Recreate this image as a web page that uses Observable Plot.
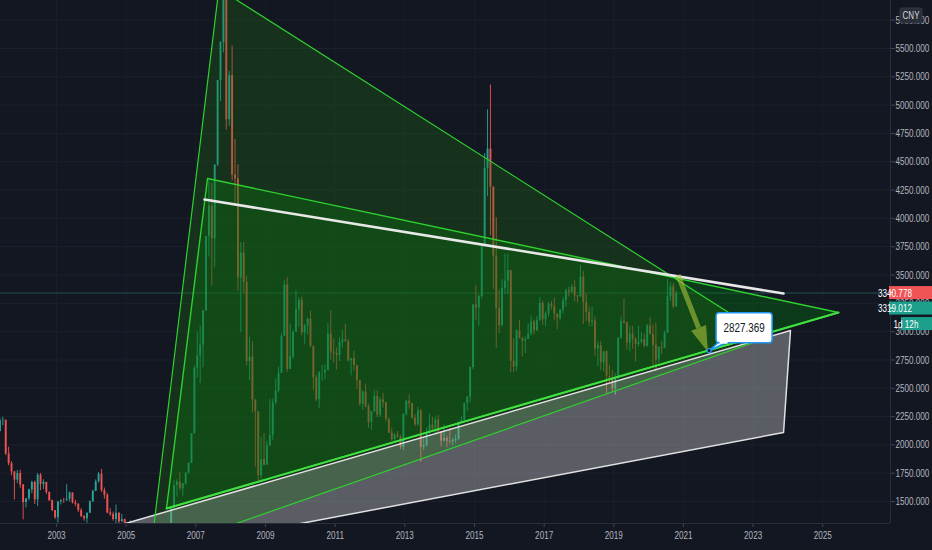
<!DOCTYPE html>
<html><head><meta charset="utf-8">
<script src="https://cdn.jsdelivr.net/npm/d3@7"></script>
<script src="https://cdn.jsdelivr.net/npm/@observablehq/plot@0.6"></script>
<style>
html,body{margin:0;padding:0;background:#131722;overflow:hidden}
#chart{width:932px;height:550px}
#chart svg g[aria-label$="tick"] path,#chart svg g[aria-label$="axis"] line,#chart svg g[aria-label$="axis"] path{stroke:#434651}
</style></head><body><div id="chart"></div>
<script>
// ---- Monthly candles of the index, starting May 2001 (open = previous close)
const startYear = 2001, startMonth = 5;
const firstOpen = 2119;
const closes = [
 2214,2218,1920,1834,1763,1689,1747,1646,
 1491,1524,1603,1668,1515,1732,1651,1669,1581,1507,1421,1357,
 1499,1511,1510,1521,1576,1487,1476,1421,1367,1348,1397,1497,
 1590,1675,1741,1595,1555,1399,1386,1342,1396,1320,1340,1266,
 1191,1306,1181,1159,1060,1080,1083,1162,1155,1092,1099,1161,
 1258,1299,1298,1440,1641,1672,1612,1658,1752,1837,2099,2675,
 2786,2881,3183,3841,4109,3820,4471,5218,5552,5954,4871,5261,
 4383,4348,3473,3693,3433,2736,2775,2397,2293,1729,1871,1821,
 1991,2082,2373,2477,2633,2959,3412,2667,2779,2996,3195,3277,
 2989,3051,3109,2871,2592,2398,2638,2638,2656,2979,2820,2808,
 2791,2905,2928,2911,2743,2762,2701,2568,2359,2468,2333,2199,
 2292,2428,2263,2397,2373,2225,2103,2047,2086,2069,1980,2269,
 2385,2366,2237,2178,2301,1979,1994,2098,2175,2141,2220,2116,
 2033,2056,2033,2026,2039,2048,2201,2217,2364,2420,2683,3235,
 3210,3310,3748,4441,4612,4277,3664,3206,3053,3383,3445,3539,
 2738,2688,3004,2938,2917,2930,2979,3085,3005,3100,3250,3104,
 3159,3242,3223,3155,3117,3192,3273,3361,3349,3393,3317,3307,
 3481,3259,3169,3082,3095,2847,2876,2725,2821,2603,2588,2494,
 2585,2941,3091,3078,2899,2979,2933,2886,2905,2929,2872,3050,
 2977,2880,2750,2860,2852,2985,3310,3396,3218,3341
];
const highs = [
 2232,2245,2219,1981,1852,1763,1776,1776,
 1650,1524,1608,1680,1681,1748,1748,1693,1670,1583,1513,1421,
 1500,1513,1528,1649,1585,1576,1512,1481,1438,1376,1400,1507,
 1600,1691,1757,1783,1619,1571,1437,1407,1469,1402,1387,1346,
 1275,1329,1311,1242,1166,1146,1089,1189,1223,1161,1109,1164,
 1260,1307,1305,1445,1683,1692,1757,1658,1754,1840,2099,2698,
 2996,3050,3185,3841,4335,4311,4472,5218,5562,6124,5915,5300,
 5522,4695,4473,3786,3786,3491,2952,2909,2333,2267,2070,2100,
 2033,2402,2404,2579,2688,2983,3454,3478,3068,3008,3361,3297,
 3306,3064,3122,3181,2871,2616,2646,2702,2707,3073,3186,2938,
 2857,2948,3009,3067,2932,2758,2827,2684,2567,2477,2536,2359,
 2297,2479,2478,2417,2453,2375,2237,2149,2102,2118,2085,2276,
 2393,2444,2332,2268,2334,2315,2060,2150,2270,2243,2246,2260,
 2118,2177,2079,2147,2061,2087,2202,2248,2370,2431,2688,3239,
 3407,3325,3776,4572,4959,5178,4184,4006,3368,3459,3684,3685,
 3539,2935,3019,3098,2950,2958,3070,3140,3101,3134,3301,3272,
 3174,3259,3267,3295,3147,3192,3301,3375,3392,3418,3450,3315,
 3587,3532,3333,3220,3219,3128,2915,2915,2827,2832,2703,2657,
 2630,2946,3129,3288,3085,3049,3048,2948,3048,2993,2979,3063,
 3127,3059,3074,2866,2915,3005,3458,3431,3425,3358
];
const lows = [
 2115,2169,1907,1815,1727,1514,1658,1616,
 1339,1443,1507,1570,1474,1455,1596,1606,1561,1502,1410,1341,
 1311,1470,1483,1501,1495,1479,1454,1403,1358,1327,1307,1395,
 1493,1588,1662,1580,1520,1392,1369,1327,1259,1304,1319,1259,
 1177,1187,1164,1131,1043,998,1004,1074,1136,1067,1074,1094,
 1161,1240,1247,1296,1435,1541,1594,1546,1642,1740,1838,2096,
 2590,2541,2681,3184,3659,3404,3563,4458,5032,5462,4778,4812,
 4330,4123,3357,2990,3333,2693,2566,2284,1802,1664,1678,1814,
 1844,1991,2037,2353,2461,2641,2962,2640,2712,2757,2993,3039,
 2963,2890,2969,2858,2482,2382,2319,2560,2573,2655,2748,2721,
 2661,2736,2852,2909,2732,2610,2653,2492,2339,2307,2328,2149,
 2132,2289,2242,2242,2325,2204,2102,2032,2029,2058,1959,1949,
 2254,2315,2225,2161,2166,1849,1951,1981,2096,2117,2086,2103,
 1984,2028,1974,2005,1991,2010,2041,2194,2207,2293,2375,2663,
 3095,3049,3287,3760,4191,3847,3373,2850,2983,3039,3328,3328,
 2638,2639,2648,2938,2780,2807,2932,2959,2969,3008,3091,3056,
 3044,3129,3190,3096,3017,3093,3153,3213,3307,3337,3264,3254,
 3306,3062,3091,3042,3041,2782,2691,2653,2644,2449,2547,2462,
 2440,2582,2934,3064,2838,2822,2844,2733,2866,2891,2857,2862,
 2969,2685,2646,2719,2796,2880,3016,3269,3202,3231
];
// ---- Axis / scale settings
const xDomain = [2001.392, 2026.944];
const yDomain = [1306.2, 5923.8];
const yearTicks = [2003,2005,2007,2009,2011,2013,2015,2017,2019,2021,2023,2025];
const priceTicks = [1500,1750,2000,2250,2500,2750,3000,3250,3500,3750,4000,4250,4500,4750,5000,5250,5500,5750];
// ---- Right-scale tags
const lastPrice = 3340.778, prevPrice = 3319.012, countdown = "1d 12h", currency = "CNY";
// ---- Drawings, anchored in [year, price]
const triangleOuter = [[2007.662, 6028], [2023.428, 2948.3], [2005.699, 1041.3]];
const triangleInner = [[2007.335, 4352.2], [2025.452, 3169.0], [2006.158, 1438.5]];
const greyZone = [[2004.981, 1306.1], [2024.073, 3010.1], [2023.873, 2109.5], [2004.981, 1014.8]];
const whiteLine = [[2007.249, 4166.8], [2023.873, 3336.9]];
const arrowPath = [[2020.858, 3495.8], [2021.719, 2815.9]];
const target = {year: 2021.75, price: 2827.369};

const candles = closes.map((c, i) => {
  const m = startMonth - 1 + i;
  const yr = startYear + Math.floor(m / 12), mi = m % 12;
  const open = i === 0 ? firstOpen : closes[i - 1];
  return {t: yr + (mi + 0.5) / 12, open, close: c,
          high: Math.max(highs[i], open, c), low: Math.min(lows[i], open, c)};
});
const up = candles.filter(d => d.close >= d.open);
const down = candles.filter(d => d.close < d.open);
const UP = "#26a69a", DOWN = "#ef5350";
const closed = pts => [...pts, pts[0]];
const font = "'Liberation Sans','Arimo',sans-serif";

const chart = Plot.plot({
  width: 932, height: 550,
  marginLeft: 0, marginRight: 42, marginTop: 0, marginBottom: 27,
  style: {background: "#131722", color: "#b2b5be", fontFamily: font, fontSize: "11px"},
  x: {domain: xDomain, ticks: yearTicks, tickFormat: d => String(d), tickSize: 4, tickPadding: 4, label: null},
  y: {domain: yDomain, ticks: priceTicks, tickFormat: d => d.toFixed(3), axis: "right", tickSize: 4, tickPadding: 1, label: null},
  marks: [
    Plot.ruleY(priceTicks, {stroke: "#1d212c", strokeWidth: 1}),
    Plot.ruleX(yearTicks, {stroke: "#1a1e29", strokeWidth: 1}),
    Plot.ruleY([lastPrice], {stroke: "#2f5f5c", strokeWidth: 1, strokeOpacity: 0.8}),
    Plot.ruleX(up, {x: "t", y1: "low", y2: "high", stroke: UP, strokeWidth: 0.9, clip: true}),
    Plot.ruleX(up, {x: "t", y1: "open", y2: "close", stroke: UP, strokeWidth: 1.9, clip: true}),
    Plot.ruleX(down, {x: "t", y1: "low", y2: "high", stroke: DOWN, strokeWidth: 0.9, clip: true}),
    Plot.ruleX(down, {x: "t", y1: "open", y2: "close", stroke: DOWN, strokeWidth: 1.9, clip: true}),
    Plot.line(closed(greyZone), {x: d => d[0], y: d => d[1], fill: "#ffffff", fillOpacity: 0.3, stroke: "none", clip: true}),
    Plot.line(closed(triangleInner), {x: d => d[0], y: d => d[1], fill: "#00780a", fillOpacity: 0.36, stroke: "none", clip: true}),
    Plot.line(closed(triangleOuter), {x: d => d[0], y: d => d[1], fill: "#1d7115", fillOpacity: 0.3, stroke: "none", clip: true}),
    Plot.line(closed(greyZone), {x: d => d[0], y: d => d[1], stroke: "#e0e0e0", strokeWidth: 1.5, clip: true}),
    Plot.line(closed(triangleOuter), {x: d => d[0], y: d => d[1], stroke: "#2fd12f", strokeWidth: 1.2, clip: true}),
    Plot.line(closed(triangleInner), {x: d => d[0], y: d => d[1], stroke: "#2fd12f", strokeWidth: 1.4, clip: true}),
    Plot.line([triangleInner[2], triangleInner[1]], {x: d => d[0], y: d => d[1], stroke: "#3fe03f", strokeWidth: 2, clip: true}),
    Plot.line(whiteLine, {x: d => d[0], y: d => d[1], stroke: "#e8e8e8", strokeWidth: 2.6}),
    Plot.ruleX([xDomain[1]], {stroke: "#2a2e39", strokeWidth: 1}),
    Plot.ruleY([yDomain[0]], {stroke: "#2a2e39", strokeWidth: 1})
  ]
});
document.getElementById("chart").appendChild(chart);

// narrow the labels like the reference's condensed face (horizontal scale around the text anchor)
const condense = (el, k = 0.74) => {
  const b = el.getBBox();
  if (!b.width) return;
  const anchor = getComputedStyle(el).textAnchor || el.getAttribute("text-anchor") || "start";
  const ax = anchor === "middle" ? b.x + b.width / 2 : anchor === "end" ? b.x + b.width : b.x;
  const prev = el.getAttribute("transform") || "";
  el.setAttribute("transform", `${prev} translate(${ax},0) scale(${k},1) translate(${-ax},0)`.trim());
};
d3.select(chart).selectAll("text").each(function () { condense(this); });

// Overlays positioned through Plot's own scales
const sx = chart.scale("x"), sy = chart.scale("y");
const X = v => sx.apply(v), Y = v => sy.apply(v);
const g = d3.select(chart).append("g");

// arrow
{
  const [a, b] = arrowPath;
  const x0 = X(a[0]), y0 = Y(a[1]), x1 = X(b[0]), y1 = Y(b[1]);
  const dx = x1 - x0, dy = y1 - y0, L = Math.hypot(dx, dy), ux = dx / L, uy = dy / L;
  const hl = 26, hw = 8;
  const bx = x1 - ux * hl, by = y1 - uy * hl;
  g.append("line").attr("x1", x0).attr("y1", y0).attr("x2", bx).attr("y2", by)
    .attr("stroke", "#a8c23a").attr("stroke-opacity", 0.6).attr("stroke-width", 5);
  g.append("path").attr("d", `M${x1},${y1}L${bx - uy * hw},${by + ux * hw}L${bx + uy * hw},${by - ux * hw}Z`)
    .attr("fill", "#a8c23a").attr("fill-opacity", 0.6);
}
// callout
{
  const tx = X(target.year), ty = Y(target.price);
  g.append("path").attr("d", `M${tx},${ty}L${tx + 10},${ty - 9}L${tx + 19},${ty - 9}Z`)
    .attr("fill", "#ffffff").attr("stroke", "#2196f3").attr("stroke-width", 1.5);
  g.append("rect").attr("x", tx + 7).attr("y", ty - 38).attr("width", 56).attr("height", 30).attr("rx", 3)
    .attr("fill", "#ffffff").attr("stroke", "#2196f3").attr("stroke-width", 1.5);
  g.append("rect").attr("x", tx + 10.5).attr("y", ty - 10).attr("width", 8).attr("height", 3).attr("fill", "#ffffff");
  g.append("circle").attr("cx", tx).attr("cy", ty).attr("r", 2).attr("fill", "#131722").attr("stroke", "#2196f3").attr("stroke-width", 1.2);
  const t = g.append("text").attr("x", tx + 35).attr("y", ty - 23).attr("text-anchor", "middle").attr("dominant-baseline", "central")
    .attr("font-family", font).attr("font-size", 13).attr("fill", "#131722").text(target.price.toFixed(3));
  condense(t.node(), 0.76);
}
// price tags on the right scale
{
  const yr = Y(lastPrice);
  const tags = [
    {y: yr, x: 889, text: lastPrice.toFixed(3), fill: "#f05454", dash: true},
    {y: yr + 15.5, x: 889, text: prevPrice.toFixed(3), fill: "#1c9f8b", dash: true},
    {y: yr + 31, x: 901, text: countdown, fill: "#1c9f8b", dash: false}
  ];
  for (const tg of tags) {
    g.append("rect").attr("x", tg.x).attr("y", tg.y - 6.5).attr("width", 932 - tg.x).attr("height", 13).attr("fill", tg.fill);
    if (tg.dash) g.append("line").attr("x1", 890).attr("x2", 893).attr("y1", tg.y).attr("y2", tg.y).attr("stroke", "#ffffff");
    const t = g.append("text").attr("x", tg.dash ? 895 : 906).attr("y", tg.y).attr("dominant-baseline", "central")
      .attr("font-family", font).attr("font-size", 11).attr("fill", "#ffffff").text(tg.text);
    condense(t.node());
  }
  g.append("rect").attr("x", 900).attr("y", 8).attr("width", 22).attr("height", 15).attr("rx", 2)
    .attr("fill", "#2a2e39").attr("stroke", "#363a45");
  const t = g.append("text").attr("x", 911).attr("y", 15.5).attr("text-anchor", "middle").attr("dominant-baseline", "central")
    .attr("font-family", font).attr("font-size", 10).attr("fill", "#d1d4dc").text(currency);
  condense(t.node(), 0.8);
}
</script></body></html>
